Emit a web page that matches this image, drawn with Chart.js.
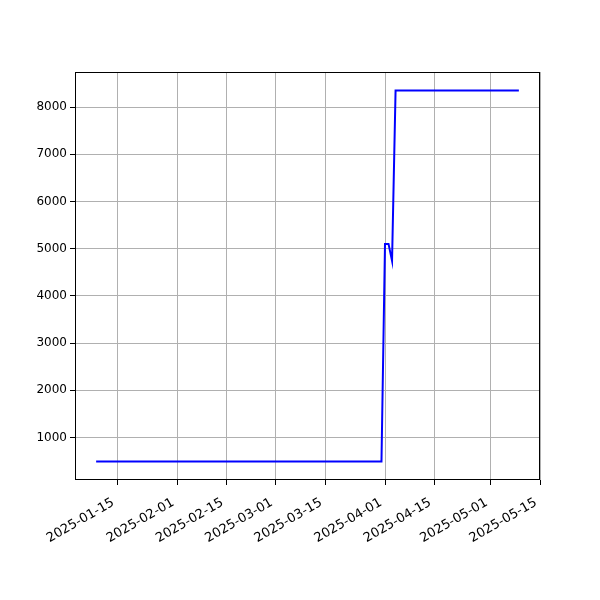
<!DOCTYPE html>
<html>
<head>
<meta charset="utf-8">
<script src="https://cdn.jsdelivr.net/npm/chart.js@4"></script>
<style>
  body { margin: 0; background: #fff; }
  #wrap { width: 600px; height: 600px; }
</style>
</head>
<body>
<div id="wrap"><canvas id="myChart" width="600" height="600"></canvas></div>
<script>
// points where the series changes (flat in between)
var dates = ['2025-01-09', '2025-03-31', '2025-04-01', '2025-04-02', '2025-04-03', '2025-04-04', '2025-05-09'];
var values = [490, 490, 5100, 5100, 4740, 8350, 8350];
var xTicks = ['2025-01-15', '2025-02-01', '2025-02-15', '2025-03-01', '2025-03-15', '2025-04-01', '2025-04-15', '2025-05-01', '2025-05-15'];
var yTicks = [1000, 2000, 3000, 4000, 5000, 6000, 7000, 8000];

function toDay(s) {
    return Date.UTC(+s.slice(0, 4), +s.slice(5, 7) - 1, +s.slice(8, 10)) / 86400000;
}
function fromDay(d) {
    return new Date(Math.round(d) * 86400000).toISOString().slice(0, 10);
}

var pts = dates.map(function(d, i) { return { x: toDay(d), y: values[i] }; });

// matplotlib style 5% margins
var xs = pts.map(p => p.x), ys = pts.map(p => p.y);
var xMin = Math.min(...xs), xMax = Math.max(...xs);
var yMin = Math.min(...ys), yMax = Math.max(...ys);
var xPad = (xMax - xMin) * 0.05, yPad = (yMax - yMin) * 0.05;

var frame = {
    id: 'frame',
    afterDraw: function(chart) {
        var a = chart.chartArea, c = chart.ctx;
        c.save();
        c.strokeStyle = '#000';
        c.lineWidth = 1;
        c.strokeRect(a.left + 0.5, a.top + 0.5, a.right - a.left - 1, a.bottom - a.top - 1);
        c.restore();
    }
};

var ctx = document.getElementById('myChart').getContext('2d');
var myChart = new Chart(ctx, {
    type: 'line',
    data: {
        datasets: [{
            data: pts,
            borderColor: '#0000ff',
            borderWidth: 2,
            pointRadius: 0,
            tension: 0,
            fill: false
        }]
    },
    options: {
        responsive: false,
        animation: false,
        layout: { padding: { top: 72, right: 60, left: 0, bottom: 0 } },
        plugins: {
            legend: { display: false },
            tooltip: { enabled: false }
        },
        scales: {
            x: {
                type: 'linear',
                min: xMin - xPad,
                max: xMax + xPad,
                afterBuildTicks: function(scale) {
                    scale.ticks = xTicks.map(t => ({ value: toDay(t) }));
                },
                afterFit: function(scale) { scale.height = 120; },
                ticks: {
                    autoSkip: false,
                    minRotation: 30,
                    maxRotation: 30,
                    color: '#000',
                    padding: 10,
                    labelOffset: -4,
                    font: { family: 'DejaVu Sans', size: 13 },
                    callback: function(v) { return fromDay(v); }
                },
                grid: { color: '#b0b0b0', lineWidth: 1, tickColor: '#000', tickLength: 5 },
                border: { display: false }
            },
            y: {
                type: 'linear',
                min: yMin - yPad,
                max: yMax + yPad,
                afterBuildTicks: function(scale) {
                    scale.ticks = yTicks.map(t => ({ value: t }));
                },
                afterFit: function(scale) { scale.width = 75; },
                ticks: {
                    color: '#000',
                    padding: 3,
                    font: { family: 'DejaVu Sans', size: 12 },
                    callback: function(v) { return String(v); }
                },
                grid: { color: '#b0b0b0', lineWidth: 1, tickColor: '#000', tickLength: 5 },
                border: { display: false }
            }
        }
    },
    plugins: [frame]
});
</script>
</body>
</html>
